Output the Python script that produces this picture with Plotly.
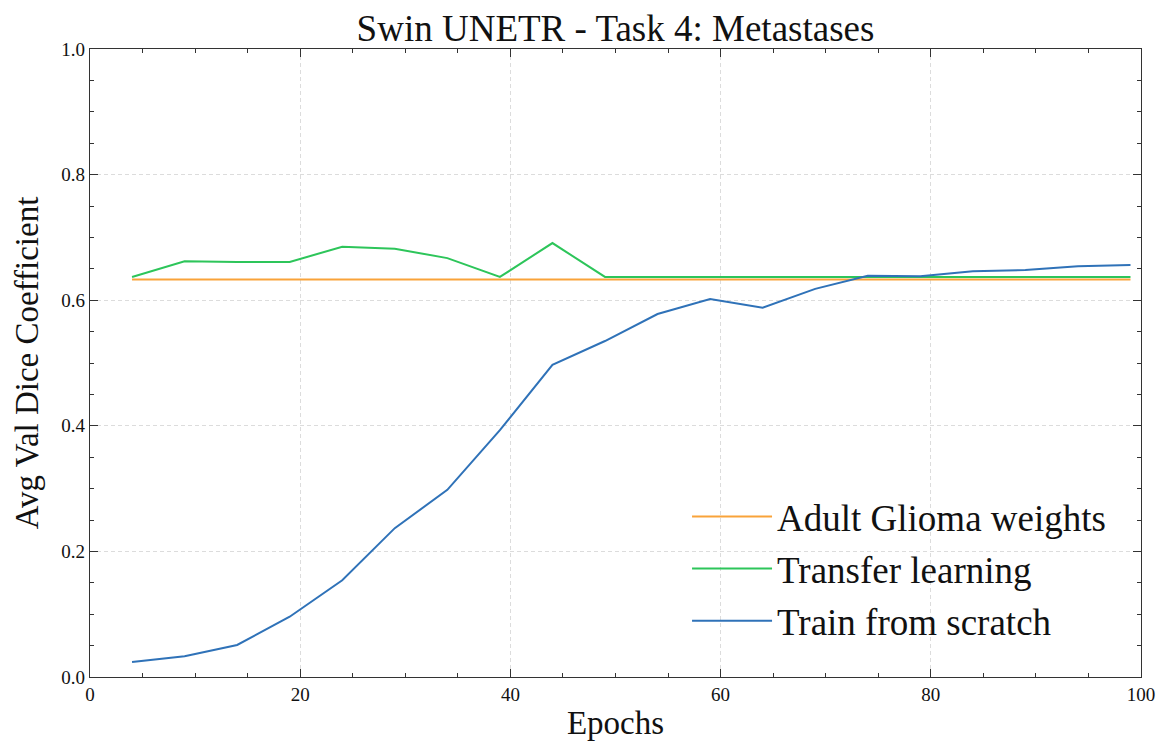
import plotly.graph_objects as go

epochs = [4, 9, 14, 19, 24, 29, 34, 39, 44, 49, 54, 59, 64, 69, 74, 79, 84, 89, 94, 99]
adult_glioma = [0.633] * 20
transfer = [0.637, 0.662, 0.661, 0.661, 0.685, 0.682, 0.667, 0.637, 0.691, 0.637,
            0.637, 0.637, 0.637, 0.637, 0.637, 0.637, 0.637, 0.637, 0.637, 0.637]
scratch = [0.024, 0.033, 0.051, 0.096, 0.154, 0.237, 0.298, 0.393, 0.497, 0.535,
           0.578, 0.602, 0.588, 0.618, 0.639, 0.638, 0.646, 0.648, 0.654, 0.656]

FONT = "Liberation Serif"

fig = go.Figure()
fig.add_trace(go.Scatter(x=epochs, y=adult_glioma, mode="lines", name="Adult Glioma weights",
                         line=dict(color="#F9A33A", width=2), legendgroup="a"))
fig.add_trace(go.Scatter(x=epochs, y=transfer, mode="lines", name="Transfer learning",
                         line=dict(color="#2DC55A", width=2), legendgroup="b"))
fig.add_trace(go.Scatter(x=epochs, y=scratch, mode="lines", name="Train from scratch",
                         line=dict(color="#2F72B8", width=2), legendgroup="c"))

axis_common = dict(
    showline=True, linecolor="#333", linewidth=1.2, mirror="ticks",
    ticks="inside", ticklen=8, tickwidth=1, tickcolor="#333",
    showgrid=True, gridcolor="#dcdcdc", griddash="4px,3px", gridwidth=1,
    zeroline=False,
    tickfont=dict(family=FONT, size=19, color="#111"),
)

fig.update_xaxes(range=[0, 100], tickvals=[0, 20, 40, 60, 80, 100],
                 minor=dict(dtick=5, tick0=0, ticks="inside", ticklen=4, tickcolor="#333", showgrid=False),
                 title=dict(text="Epochs", font=dict(family=FONT, size=33, color="#111"), standoff=6),
                 **axis_common)
fig.update_yaxes(range=[0, 1], tickvals=[0, 0.2, 0.4, 0.6, 0.8, 1.0], tickformat=".1f",
                 minor=dict(dtick=0.05, tick0=0, ticks="inside", ticklen=4, tickcolor="#333", showgrid=False),
                 title=dict(text="Avg Val Dice Coefficient", font=dict(family=FONT, size=33, color="#111"), standoff=12),
                 **axis_common)

fig.update_layout(
    width=1166, height=747,
    margin=dict(l=90, r=25, t=49, b=70),
    plot_bgcolor="white", paper_bgcolor="white",
    title=dict(text="Swin UNETR - Task 4: Metastases", x=0.5, xref="paper", xanchor="center",
               y=0.9625, yref="container", yanchor="middle",
               font=dict(family=FONT, size=37, color="#111")),
    legend=dict(x=0.9715, xanchor="right", y=0.04, yanchor="bottom",
                font=dict(family=FONT, size=37, color="#111"),
                bgcolor="rgba(0,0,0,0)", tracegroupgap=1, traceorder="grouped",
                itemwidth=80),
    showlegend=True,
)

fig.write_html("out.html")
